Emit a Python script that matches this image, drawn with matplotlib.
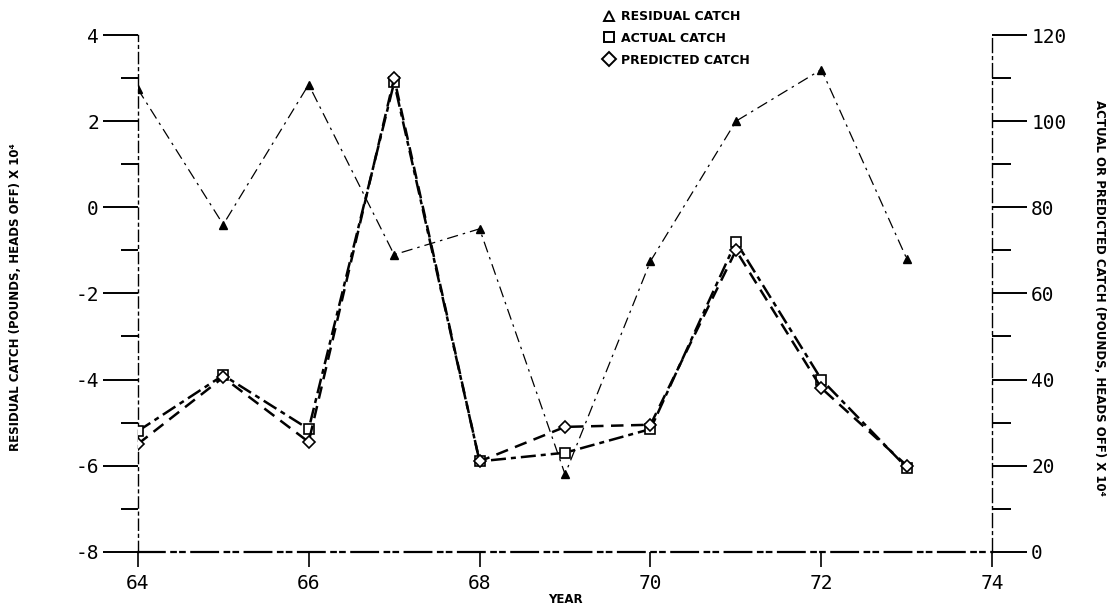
import numpy as np
import matplotlib
matplotlib.use("Agg")
import matplotlib.pyplot as plt
from matplotlib.lines import Line2D
from matplotlib.ticker import MultipleLocator

plt.rcParams['axes.unicode_minus'] = False

# catch data by year (19xx)
years = [64, 65, 66, 67, 68, 69, 70, 71, 72, 73]
residual = [2.75, -0.4, 2.85, -1.1, -0.5, -6.2, -1.25, 2.0, 3.2, -1.2]
actual = [28, 41, 28.5, 109, 21, 23, 28.5, 72, 40, 19.5]
predicted = [25, 40.5, 25.5, 110, 21, 29, 29.5, 70, 38, 20]

tick_font = {'family': 'DejaVu Sans Mono', 'size': 14}
label_font = {'family': 'DejaVu Sans', 'weight': 'bold', 'size': 8.5}

fig = plt.figure(figsize=(11.2, 6.05), dpi=100)
ax = fig.add_axes([0.123, 0.088, 0.763, 0.854])
ax2 = ax.twinx()

# residual on the left scale
ax.plot(years, residual, color='black', lw=0.9, linestyle=(0, (9, 4, 2, 4)),
        marker='^', markersize=6, markerfacecolor='black',
        markeredgecolor='black')

# actual / predicted on the right scale
ax2.plot(years, actual, color='black', lw=1.8, linestyle=(0, (6, 2, 2, 2)),
         marker='s', markersize=7, markerfacecolor='white',
         markeredgecolor='black', markeredgewidth=1.2)
ax2.plot(years, predicted, color='black', lw=1.8, linestyle=(0, (5, 3)),
         marker='D', markersize=6.5, markerfacecolor='white',
         markeredgecolor='black', markeredgewidth=1.2)

ax.set_xlim(64, 74)
ax.set_ylim(-8, 4)
ax2.set_ylim(0, 120)

ax.set_xticks([64, 66, 68, 70, 72, 74])
ax.yaxis.set_major_locator(MultipleLocator(2))
ax.yaxis.set_minor_locator(MultipleLocator(1))
ax2.yaxis.set_major_locator(MultipleLocator(20))
ax2.yaxis.set_minor_locator(MultipleLocator(10))

ax.tick_params(axis='x', direction='out', length=11, width=1.2, pad=5)
ax.tick_params(axis='y', which='major', direction='out', length=25,
               width=1.4, pad=3)
ax.tick_params(axis='y', which='minor', direction='out', length=12, width=1.4)
ax2.tick_params(axis='y', which='major', direction='out', length=25,
                width=1.4, pad=3)
ax2.tick_params(axis='y', which='minor', direction='out', length=14,
                width=1.4)

for a in (ax, ax2):
    for t in a.get_xticklabels() + a.get_yticklabels():
        t.set_fontfamily(tick_font['family'])
        t.set_fontsize(tick_font['size'])
    a.spines['top'].set_visible(False)

ax.spines['left'].set_linestyle((0, (8, 3, 2, 3)))
ax.spines['left'].set_linewidth(1.0)
ax.spines['bottom'].set_linestyle((0, (12, 3, 2, 2, 2, 3)))
ax.spines['bottom'].set_linewidth(1.6)
ax.spines['right'].set_visible(False)
ax2.spines['left'].set_visible(False)
ax2.spines['bottom'].set_visible(False)
ax2.spines['right'].set_linestyle((0, (10, 3, 2, 3)))
ax2.spines['right'].set_linewidth(1.0)

ax.set_xlabel('YEAR', fontdict=label_font, labelpad=0)
fig.text(0.014, 0.509, 'RESIDUAL CATCH (POUNDS, HEADS OFF) X 10\u2074',
         rotation=90, ha='center', va='center', **label_font)
fig.text(0.982, 0.507,
         'ACTUAL OR PREDICTED CATCH (POUNDS, HEADS OFF) X 10\u2074',
         rotation=270, ha='center', va='center', **label_font)

handles = [
    Line2D([], [], linestyle='none', marker='^', markersize=7,
           markerfacecolor='white', markeredgecolor='black',
           markeredgewidth=1.4),
    Line2D([], [], linestyle='none', marker='s', markersize=7,
           markerfacecolor='white', markeredgecolor='black',
           markeredgewidth=1.4),
    Line2D([], [], linestyle='none', marker='D', markersize=7,
           markerfacecolor='white', markeredgecolor='black',
           markeredgewidth=1.4),
]
fig.legend(handles, ['RESIDUAL CATCH', 'ACTUAL CATCH', 'PREDICTED CATCH'],
           loc='upper left', bbox_to_anchor=(0.527, 1.002), frameon=False,
           prop={'family': 'DejaVu Sans', 'weight': 'bold', 'size': 9},
           handletextpad=0.4, labelspacing=0.7, handlelength=1.2)

fig.savefig('out.png', dpi=100, facecolor='white')
